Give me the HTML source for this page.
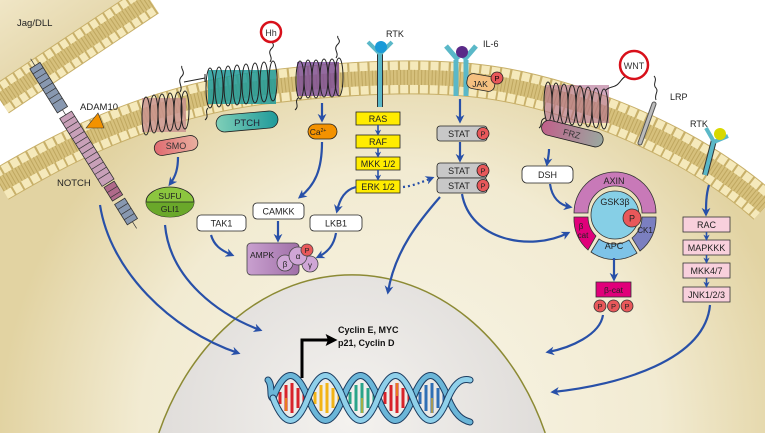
<!DOCTYPE html>
<html><head><meta charset="utf-8">
<style>
html,body{margin:0;padding:0;background:#fff;width:765px;height:433px;overflow:hidden;}
svg{display:block;overflow:hidden;}
text{font-family:"Liberation Sans",sans-serif;}
</style></head>
<body>
<svg width="765" height="433" viewBox="0 0 765 433" xmlns="http://www.w3.org/2000/svg">
<defs>
<radialGradient id="cyto" cx="400" cy="430" r="400" gradientUnits="userSpaceOnUse">
<stop offset="0" stop-color="#f8f5e8"/><stop offset="0.65" stop-color="#f2ebd2"/><stop offset="1" stop-color="#e2d3a2"/>
</radialGradient>
<linearGradient id="tl" x1="0" y1="0" x2="1" y2="1"><stop offset="0" stop-color="#f0e6c6"/><stop offset="1" stop-color="#d8c68e"/></linearGradient>
<radialGradient id="nuc" cx="350" cy="420" r="220" gradientUnits="userSpaceOnUse">
<stop offset="0" stop-color="#f4f2ef"/><stop offset="1" stop-color="#dddad7"/>
</radialGradient>
<linearGradient id="ptch" x1="0" x2="1"><stop offset="0" stop-color="#7fcfb8"/><stop offset="1" stop-color="#1f9a9a"/></linearGradient>
<linearGradient id="smo" x1="0" x2="1"><stop offset="0" stop-color="#e06a70"/><stop offset="1" stop-color="#e9b0a0"/></linearGradient>
<linearGradient id="frz" x1="0" x2="1"><stop offset="0" stop-color="#c0608a"/><stop offset="1" stop-color="#9aa8a0"/></linearGradient>
<linearGradient id="ampk" x1="0" x2="1"><stop offset="0" stop-color="#c9a0cf"/><stop offset="1" stop-color="#a070a8"/></linearGradient>
<marker id="ah" viewBox="0 0 10 10" refX="7" refY="5" markerWidth="4" markerHeight="4" orient="auto-start-reverse"><path d="M0,0 L10,5 L0,10 L3,5 z" fill="#2850a8"/></marker>
<marker id="bh" viewBox="0 0 10 10" refX="7" refY="5" markerWidth="4" markerHeight="4" orient="auto"><path d="M0,0 L10,5 L0,10 L2,5 z" fill="#000"/></marker>
</defs>

<path d="M0,0 L150,0 L0,100 Z" fill="url(#tl)"/>
<path d="M0,185 C60,150 140,105 260,88 C340,78 430,72 500,84 C580,98 690,140 765,207 L765,433 L0,433 Z" fill="url(#cyto)"/>

<g fill="none">
<path d="M0,100 L150,0" stroke="#c8b06a" stroke-width="32"/>
<path d="M0,100 L150,0" stroke="#f5e9bb" stroke-width="30" stroke-dasharray="7 2"/>
<path d="M0,100 L150,0" stroke="#d6c07c" stroke-width="14"/>
<path d="M0,100 L150,0" stroke="#bfa760" stroke-width="14" stroke-dasharray="1 2.5"/>
<path d="M0,185 C60,150 140,105 260,88 C340,78 430,72 500,84 C580,98 690,140 765,207" stroke="#c8b06a" stroke-width="34"/>
<path d="M0,185 C60,150 140,105 260,88 C340,78 430,72 500,84 C580,98 690,140 765,207" stroke="#f5e9bb" stroke-width="32" stroke-dasharray="8 2"/>
<path d="M0,185 C60,150 140,105 260,88 C340,78 430,72 500,84 C580,98 690,140 765,207" stroke="#d6c07c" stroke-width="15"/>
<path d="M0,185 C60,150 140,105 260,88 C340,78 430,72 500,84 C580,98 690,140 765,207" stroke="#bfa760" stroke-width="15" stroke-dasharray="1 2.5"/>
</g>

<path d="M158.8,433 A210,260 0 0 1 545.2,433 Z" fill="url(#nuc)"/>
<path d="M158.8,433 A210,260 0 0 1 545.2,433" fill="none" stroke="#8c8a34" stroke-width="1.5"/>

<g transform="translate(72,125) rotate(58)">
<rect x="-70" y="-6" width="52" height="12" fill="#8898b0" stroke="#333" stroke-width="0.8"/>
<rect x="-12" y="-7" width="80" height="14" fill="#c8a0b8" stroke="#333" stroke-width="0.8"/>
<rect x="70" y="-6" width="16" height="12" fill="#b06a8a" stroke="#333" stroke-width="0.8"/>
<rect x="90" y="-6" width="24" height="12" fill="#8898b0" stroke="#333" stroke-width="0.8"/>
<g stroke="#333" stroke-width="0.7">
<path d="M-64,-6v12M-58,-6v12M-52,-6v12M-46,-6v12M-40,-6v12M-34,-6v12M-28,-6v12M-6,-7v14M0,-7v14M6,-7v14M12,-7v14M18,-7v14M24,-7v14M30,-7v14M36,-7v14M42,-7v14M48,-7v14M54,-7v14M60,-7v14M76,-6v12M82,-6v12M96,-6v12M102,-6v12M108,-6v12"/>
<path d="M-78,0h8M-18,0h6M114,0h8"/>
</g>
</g>
<polygon points="86,128 98,113 104,128" fill="#f39200" stroke="#333" stroke-width="0.6"/>
<text x="80" y="110" font-size="9.5" fill="#222">ADAM10</text>
<text x="57" y="186" font-size="9.5" fill="#222">NOTCH</text>
<text x="17" y="26" font-size="9.5" fill="#222">Jag/DLL</text>

<g>
<rect x="142" y="98" width="44" height="34" fill="#c89090" opacity="0.8"/>
<g fill="none" stroke="#222" stroke-width="1">
<ellipse cx="146" cy="116" rx="4" ry="19"/><ellipse cx="154" cy="114" rx="4" ry="19"/><ellipse cx="162" cy="113" rx="4" ry="19"/><ellipse cx="170" cy="112" rx="4" ry="19"/><ellipse cx="178" cy="111" rx="4" ry="19"/><ellipse cx="185" cy="110" rx="4" ry="19"/>
<path d="M180,92 c4,-6 -4,-10 2,-16 c4,-4 -2,-8 0,-10"/>
<path d="M184,82 L205,78 M205,74 v8"/>
</g>
<rect x="154" y="138" width="44" height="15" rx="7.5" fill="url(#smo)" stroke="#222" stroke-width="0.8" transform="rotate(-10 176 145)"/>
<text x="176" y="149" font-size="9" text-anchor="middle" fill="#333">SMO</text>
</g>
<g>
<rect x="208" y="70" width="68" height="34" fill="#1f9a9a" opacity="0.85"/>
<g fill="none" stroke="#222" stroke-width="1">
<ellipse cx="210" cy="88" rx="4" ry="20"/><ellipse cx="219" cy="87" rx="4" ry="20"/><ellipse cx="228" cy="86" rx="4" ry="20"/><ellipse cx="237" cy="85" rx="4" ry="20"/><ellipse cx="246" cy="84" rx="4" ry="20"/><ellipse cx="255" cy="83" rx="4" ry="20"/><ellipse cx="264" cy="82" rx="4" ry="20"/><ellipse cx="273" cy="81" rx="4" ry="20"/>
<path d="M270,62 c4,-6 -4,-8 2,-14 c4,-4 -2,-6 0,-8"/>
<path d="M208,108 c-4,4 2,8 -3,12"/>
</g>
<rect x="216" y="113" width="62" height="17" rx="8.5" fill="url(#ptch)" stroke="#222" stroke-width="0.8" transform="rotate(-5 247 121)"/>
<text x="247" y="126" font-size="9.5" text-anchor="middle" fill="#223">PTCH</text>
</g>
<circle cx="271" cy="32" r="10" fill="#fff" stroke="#d8101a" stroke-width="2.5"/>
<text x="271" y="36" font-size="9" text-anchor="middle" fill="#333">Hh</text>
<g>
<rect x="297" y="62" width="42" height="34" fill="#7a4a98" opacity="0.8"/>
<g fill="none" stroke="#222" stroke-width="1">
<ellipse cx="300" cy="80" rx="4" ry="19"/><ellipse cx="308" cy="79" rx="4" ry="19"/><ellipse cx="316" cy="79" rx="4" ry="19"/><ellipse cx="324" cy="78" rx="4" ry="19"/><ellipse cx="332" cy="78" rx="4" ry="19"/><ellipse cx="339" cy="77" rx="4" ry="19"/>
<path d="M336,58 c4,-6 -4,-8 2,-14 c4,-4 -2,-6 0,-8"/>
<path d="M298,98 c-4,4 2,8 -3,12"/>
</g>
</g>
<rect x="308" y="124" width="29" height="15" rx="7.5" fill="#f39200" stroke="#222" stroke-width="0.8"/>
<text x="318" y="135" font-size="8.5" text-anchor="middle" fill="#222">Ca<tspan font-size="5" dy="-3">2+</tspan></text>

<ellipse cx="170" cy="202" rx="24" ry="15" fill="#8cc63f" stroke="#222" stroke-width="0.8"/>
<path d="M146,202 h48 a24,15 0 0 1 -48,0z" fill="#6aa82a"/>
<line x1="146" y1="202" x2="194" y2="202" stroke="#222" stroke-width="0.8"/>
<text x="170" y="199" font-size="8.5" text-anchor="middle" fill="#222">SUFU</text>
<text x="170" y="212" font-size="8.5" text-anchor="middle" fill="#222">GLI1</text>

<g font-size="9" text-anchor="middle" fill="#222">
<rect x="197" y="215" width="49" height="16" rx="4" fill="#fff" stroke="#222" stroke-width="0.8"/><text x="221.5" y="226.5">TAK1</text>
<rect x="253" y="203" width="51" height="16" rx="4" fill="#fff" stroke="#222" stroke-width="0.8"/><text x="278.5" y="214.5">CAMKK</text>
<rect x="310" y="215" width="52" height="16" rx="4" fill="#fff" stroke="#222" stroke-width="0.8"/><text x="336" y="226.5">LKB1</text>
<rect x="247" y="243" width="52" height="32" rx="4" fill="url(#ampk)" stroke="#444" stroke-width="0.8"/>
<text x="262" y="258" font-size="8.5">AMPK</text>
<circle cx="285" cy="263" r="8" fill="#cfa6d6" stroke="#444" stroke-width="0.8"/><text x="285" y="267" font-size="8">β</text>
<circle cx="310" cy="264" r="8" fill="#cfa6d6" stroke="#444" stroke-width="0.8"/><text x="310" y="268" font-size="8">γ</text>
<circle cx="298" cy="256" r="9" fill="#cfa6d6" stroke="#444" stroke-width="0.8"/><text x="298" y="259" font-size="8">α</text>
<circle cx="307" cy="250" r="6" fill="#e8585a" stroke="#444" stroke-width="0.8"/><text x="307" y="253" font-size="7.5">P</text>
</g>

<path d="M380,52 v55" stroke="#333" stroke-width="6"/>
<path d="M380,52 v55" stroke="#5ab8c8" stroke-width="4"/>
<path d="M368,42 L380,54 L392,42" fill="none" stroke="#5ab8c8" stroke-width="4"/>
<circle cx="381" cy="47" r="6" fill="#1a9ad8"/>
<text x="386" y="37" font-size="9" fill="#222">RTK</text>
<g font-size="9" text-anchor="middle" fill="#222">
<rect x="356" y="112" width="44" height="13" fill="#ffec00" stroke="#222" stroke-width="0.8"/><text x="378" y="122">RAS</text>
<rect x="356" y="135" width="44" height="13" fill="#ffec00" stroke="#222" stroke-width="0.8"/><text x="378" y="145">RAF</text>
<rect x="356" y="157" width="44" height="13" fill="#ffec00" stroke="#222" stroke-width="0.8"/><text x="378" y="167">MKK 1/2</text>
<rect x="356" y="180" width="44" height="13" fill="#ffec00" stroke="#222" stroke-width="0.8"/><text x="378" y="190">ERK 1/2</text>
</g>

<path d="M456,60 v36 M466,60 v36" stroke="#5ab8c8" stroke-width="5"/>
<path d="M446,46 L458,60 M476,46 L464,60" stroke="#5ab8c8" stroke-width="5"/>
<circle cx="462" cy="52" r="6" fill="#5a2a88"/>
<text x="483" y="47" font-size="9" fill="#222">IL-6</text>
<rect x="467" y="75" width="28" height="15" rx="6" fill="#f5c080" stroke="#222" stroke-width="0.8" transform="rotate(10 481 82)"/>
<text x="480" y="87" font-size="8.5" text-anchor="middle" fill="#222">JAK</text>
<circle cx="497" cy="78" r="6" fill="#e8585a" stroke="#222" stroke-width="0.8"/><text x="497" y="81" font-size="7.5" text-anchor="middle">P</text>
<g font-size="9" text-anchor="middle" fill="#222">
<rect x="437" y="126" width="50" height="15" rx="3" fill="#c8c8c8" stroke="#222" stroke-width="0.8"/><text x="459" y="137">STAT</text>
<circle cx="483" cy="133.5" r="6" fill="#e8585a" stroke="#222" stroke-width="0.8"/><text x="483" y="136.5" font-size="7.5">P</text>
<rect x="437" y="163" width="50" height="15" rx="3" fill="#c8c8c8" stroke="#222" stroke-width="0.8"/><text x="459" y="174">STAT</text>
<circle cx="483" cy="170.5" r="6" fill="#e8585a" stroke="#222" stroke-width="0.8"/><text x="483" y="173.5" font-size="7.5">P</text>
<rect x="437" y="178" width="50" height="15" rx="3" fill="#c8c8c8" stroke="#222" stroke-width="0.8"/><text x="459" y="189">STAT</text>
<circle cx="483" cy="185.5" r="6" fill="#e8585a" stroke="#222" stroke-width="0.8"/><text x="483" y="188.5" font-size="7.5">P</text>
</g>

<g>
<rect x="545" y="85" width="64" height="38" fill="#b06a90" opacity="0.6"/>
<g fill="none" stroke="#222" stroke-width="1">
<ellipse cx="548" cy="102" rx="4" ry="20"/><ellipse cx="556" cy="103" rx="4" ry="20"/><ellipse cx="564" cy="104" rx="4" ry="20"/><ellipse cx="572" cy="105" rx="4" ry="20"/><ellipse cx="580" cy="106" rx="4" ry="20"/><ellipse cx="588" cy="107" rx="4" ry="20"/><ellipse cx="596" cy="108" rx="4" ry="20"/><ellipse cx="604" cy="109" rx="4" ry="20"/>
<path d="M606,90 c4,-4 8,-2 12,-6 c4,-4 4,-6 8,-8"/>
<path d="M545,118 c-6,2 -2,8 -6,10"/>
<path d="M654,76 c4,4 -2,8 2,12 c3,4 -2,6 0,12"/>
</g>
<rect x="541" y="126" width="63" height="15" rx="7.5" fill="url(#frz)" stroke="#222" stroke-width="0.8" transform="rotate(14 572 133)"/>
<text x="572" y="137" font-size="9" text-anchor="middle" fill="#333" transform="rotate(14 572 133)">FRZ</text>
</g>
<circle cx="634" cy="65" r="14" fill="#fff" stroke="#d8101a" stroke-width="2.5"/>
<text x="634" y="69" font-size="9" text-anchor="middle" fill="#333">WNT</text>
<line x1="654" y1="104" x2="640" y2="143" stroke="#555" stroke-width="5" stroke-linecap="round"/>
<line x1="654" y1="104" x2="640" y2="143" stroke="#bbb" stroke-width="3" stroke-linecap="round"/>
<text x="670" y="100" font-size="9" fill="#222">LRP</text>
<rect x="522" y="166" width="51" height="17" rx="5" fill="#fff" stroke="#222" stroke-width="0.8"/>
<text x="547.5" y="178" font-size="9" text-anchor="middle" fill="#222">DSH</text>

<g stroke="#333" stroke-width="0.8">
<path d="M574,213 A41,41 0 0 1 656,213 L642,213 A27,27 0 0 0 588,213 Z" fill="#c879b8"/>
<path d="M574,217 L588,217 A27,27 0 0 0 596,236 L588,250 A41,41 0 0 1 574,217 Z" fill="#e0007a"/>
<path d="M591,252 L599,239 A27,27 0 0 0 629,240 L637,253 A41,41 0 0 1 591,252 Z" fill="#7ec3e8"/>
<path d="M640,251 L632,238 A27,27 0 0 0 642,217 L656,217 A41,41 0 0 1 640,251 Z" fill="#7b7fc0"/>
<circle cx="615" cy="215" r="24" fill="#86cfe6"/>
<circle cx="632" cy="218" r="9" fill="#e8585a"/>
</g>
<g font-size="9" text-anchor="middle" fill="#222">
<text x="614" y="184">AXIN</text>
<text x="615" y="205">GSK3β</text>
<text x="632" y="221.5">P</text>
<text x="581" y="229" font-size="8">β</text><text x="583" y="238" font-size="8">cat</text>
<text x="614" y="249">APC</text>
<text x="645" y="233" font-size="8">CK1</text>
</g>
<rect x="596" y="282" width="35" height="15" fill="#e0007a" stroke="#333" stroke-width="0.8"/>
<text x="613.5" y="293" font-size="8.5" text-anchor="middle" fill="#222">β-cat</text>
<g font-size="7.5" text-anchor="middle" fill="#222">
<circle cx="600" cy="306" r="6" fill="#e8585a" stroke="#333" stroke-width="0.8"/><text x="600" y="309">P</text>
<circle cx="613.5" cy="306" r="6" fill="#e8585a" stroke="#333" stroke-width="0.8"/><text x="613.5" y="309">P</text>
<circle cx="627" cy="306" r="6" fill="#e8585a" stroke="#333" stroke-width="0.8"/><text x="627" y="309">P</text>
</g>

<path d="M714,140 L705,175" stroke="#333" stroke-width="6"/>
<path d="M714,140 L705,175" stroke="#5ab8c8" stroke-width="4"/>
<path d="M706,128 L714,142 L728,136" fill="none" stroke="#5ab8c8" stroke-width="4"/>
<circle cx="720" cy="134" r="6" fill="#d8d800"/>
<text x="690" y="127" font-size="9" fill="#222">RTK</text>
<g font-size="9" text-anchor="middle" fill="#222">
<rect x="683" y="217" width="47" height="15" fill="#f8d0dc" stroke="#333" stroke-width="0.8"/><text x="706.5" y="228">RAC</text>
<rect x="683" y="240" width="47" height="15" fill="#f8d0dc" stroke="#333" stroke-width="0.8"/><text x="706.5" y="251">MAPKKK</text>
<rect x="683" y="263" width="47" height="15" fill="#f8d0dc" stroke="#333" stroke-width="0.8"/><text x="706.5" y="274">MKK4/7</text>
<rect x="683" y="287" width="47" height="15" fill="#f8d0dc" stroke="#333" stroke-width="0.8"/><text x="706.5" y="298">JNK1/2/3</text>
</g>

<g fill="none" stroke="#2850a8" stroke-width="2.2" marker-end="url(#ah)">
<path d="M100,205 C110,270 170,330 238,353"/>
<path d="M165,225 C170,280 220,315 260,330"/>
<path d="M178,157 C178,168 176,176 170,184"/>
<path d="M322,103 V120"/>
<path d="M322,142 C322,170 315,185 300,197"/>
<path d="M356,187 C345,190 340,198 337,211"/>
<path d="M211,235 C214,245 220,250 232,255"/>
<path d="M278,221 V240"/>
<path d="M336,233 C334,245 328,252 318,257"/>
<path d="M460,99 V121"/>
<path d="M460,142 V160"/>
<path d="M440,197 C420,220 395,250 388,292"/>
<path d="M462,194 C470,240 530,252 568,233"/>
<path d="M549,149 C549,155 548,158 547,164"/>
<path d="M550,184 C552,198 560,205 570,207"/>
<path d="M614,258 V279"/>
<path d="M603,315 C600,335 570,348 548,352"/>
<path d="M710,305 C705,360 620,385 553,392"/>
<path d="M709,185 C706,195 706,205 706,214"/>
</g>
<g stroke="#2850a8" stroke-width="1.6" marker-end="url(#ah)">
<path d="M378,125 v9"/><path d="M378,148 v8"/><path d="M378,170 v9"/>
<path d="M706.5,232 v7"/><path d="M706.5,255 v7"/><path d="M706.5,278 v8"/>
</g>
<path d="M403,187 C413,186 422,182 432,178" fill="none" stroke="#2850a8" stroke-width="2.2" stroke-dasharray="2 3" marker-end="url(#ah)"/>

<path d="M302,378 V340 H334" fill="none" stroke="#000" stroke-width="3" marker-end="url(#bh)"/>
<text x="338" y="333" font-size="9" font-weight="bold" fill="#111">Cyclin E, MYC</text>
<text x="338" y="346" font-size="9" font-weight="bold" fill="#111">p21, Cyclin D</text>

<g>
<g stroke-width="3">
<path d="M280,392v12M286,385v26M292,383v30M298,388v20M304,393v10" stroke="#d8232a"/>
<path d="M315,392v12M321,385v26M327,383v30M333,388v20M339,393v10" stroke="#f2b416"/>
<path d="M350,392v12M356,385v26M362,383v30M368,388v20M374,393v10" stroke="#2aa58a"/>
<path d="M385,392v12M391,385v26M397,383v30M403,388v20M409,393v10" stroke="#d8232a"/>
<path d="M420,392v12M426,385v26M432,383v30M438,388v20M444,393v10" stroke="#2f6fb5"/>
</g>
<g stroke-width="1.2" stroke="#f2b416"><path d="M286,398v13M321,385v13M362,398v15M397,383v13M432,398v15"/></g>
<g fill="none" stroke-linecap="round">
<path d="M268,380 C273,385 269,398 273,398 C284.7,368 296.3,368 308,398 C319.7,428 331.3,428 343,398 C354.7,368 366.3,368 378,398 C389.7,428 401.3,428 413,398 C424.7,368 436.3,368 448,398 C455,415 462,420 470,422" stroke="#1c3c60" stroke-width="7"/>
<path d="M268,380 C273,385 269,398 273,398 C284.7,368 296.3,368 308,398 C319.7,428 331.3,428 343,398 C354.7,368 366.3,368 378,398 C389.7,428 401.3,428 413,398 C424.7,368 436.3,368 448,398 C455,415 462,420 470,422" stroke="#6bb6d8" stroke-width="5"/>
<path d="M273,398 C284.7,428 296.3,428 308,398 C319.7,368 331.3,368 343,398 C354.7,428 366.3,428 378,398 C389.7,368 401.3,368 413,398 C424.7,428 436.3,428 448,398 C455,382 462,378 470,380" stroke="#1c3c60" stroke-width="7"/>
<path d="M273,398 C284.7,428 296.3,428 308,398 C319.7,368 331.3,368 343,398 C354.7,428 366.3,428 378,398 C389.7,368 401.3,368 413,398 C424.7,428 436.3,428 448,398 C455,382 462,378 470,380" stroke="#8fd0ea" stroke-width="5"/>
</g>
</g>
</svg>
</body></html>
